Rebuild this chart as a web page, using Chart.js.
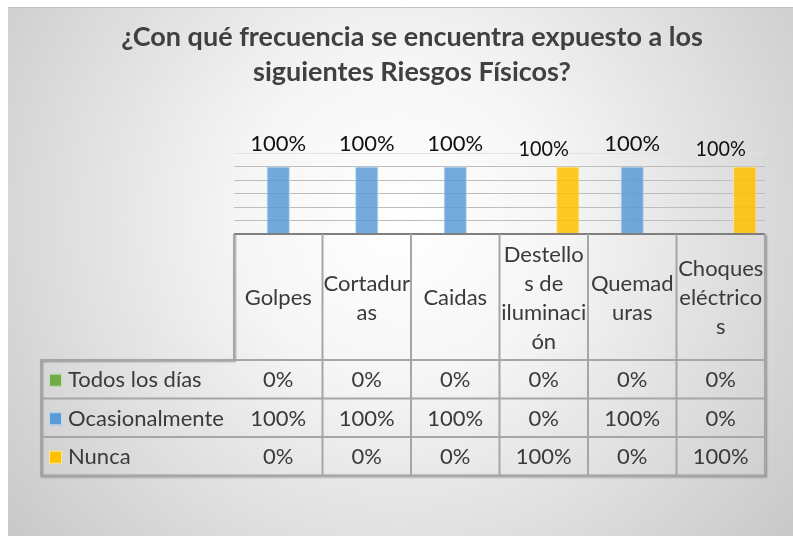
<!DOCTYPE html>
<html>
<head>
<meta charset="utf-8">
<script src="https://cdn.jsdelivr.net/npm/chart.js@4/dist/chart.umd.min.js"></script>
<style>
  html, body { margin: 0; padding: 0; background: #fff; }
  canvas { display: block; }
</style>
</head>
<body>
<canvas id="chart" width="793" height="536"></canvas>
<script>
// ========== DATA ==========
const titleLines = ["¿Con qué frecuencia se encuentra expuesto a los", "siguientes Riesgos Físicos?"];
const categories = [
  ["Golpes"],
  ["Cortadur", "as"],
  ["Caidas"],
  ["Destello", "s de", "iluminaci", "ón"],
  ["Quemad", "uras"],
  ["Choques", "eléctrico", "s"]
];
const seriesNames = ["Todos los días", "Ocasionalmente", "Nunca"];
const todosLosDias = [0, 0, 0, 0, 0, 0];
const ocasionalmente = [100, 100, 100, 0, 100, 0];
const nunca = [0, 0, 0, 100, 0, 100];
const yMax = 120;
const yStep = 20;

const seriesColors = ["rgba(112,173,71,0.9)", "rgba(91,155,213,0.85)", "rgba(255,192,0,0.85)"];
const keyColors = ["#70AD47", "#5B9BD5", "#FFC000"];
const FONT = "Lato, 'Open Sans', sans-serif";

// ========== PLUGINS ==========
// gray panel with radial gradient behind everything
const panelPlugin = {
  id: "panel",
  beforeDraw(chart) {
    const { ctx, width, height } = chart;
    ctx.save();
    ctx.fillStyle = "#fff";
    ctx.fillRect(0, 0, width, height);
    const g = ctx.createRadialGradient(400, 220, 0, 400, 220, 520);
    g.addColorStop(0, "#ffffff");
    g.addColorStop(0.3, "#f6f6f6");
    g.addColorStop(1, "#c6c6c6");
    ctx.fillStyle = g;
    ctx.fillRect(8, 7, width - 8, height - 7);
    ctx.strokeStyle = "#c2c2c2";
    ctx.lineWidth = 1;
    ctx.beginPath();
    ctx.moveTo(8, 7.5);
    ctx.lineTo(width, 7.5);
    ctx.stroke();
    ctx.restore();
  }
};

// title drawn by hand so it centres on the whole panel
const titlePlugin = {
  id: "bigTitle",
  afterDraw(chart) {
    const ctx = chart.ctx;
    ctx.save();
    ctx.font = "bold 27px " + FONT;
    ctx.fillStyle = "#404040";
    ctx.textAlign = "center";
    ctx.textBaseline = "alphabetic";
    titleLines.forEach((t, i) => ctx.fillText(t, 412, 46 + i * 35));
    ctx.restore();
  }
};

// "100%" labels over the non-zero bars
const labelPlugin = {
  id: "barLabels",
  afterDatasetsDraw(chart) {
    const ctx = chart.ctx;
    const xs = chart.scales.x, ys = chart.scales.y;
    ctx.save();
    ctx.font = "22px " + FONT;
    ctx.fillStyle = "#111";
    ctx.textAlign = "center";
    ctx.textBaseline = "alphabetic";
    chart.data.datasets.forEach((ds) => {
      ds.data.forEach((v, i) => {
        if (!v) return;
        ctx.save();
        ctx.translate(xs.getPixelForValue(i), ys.getPixelForValue(v) - ds.labelGap);
        ctx.scale(ds.labelScaleX, 1);
        ctx.fillText(v + "%", 0, 0);
        ctx.restore();
      });
    });
    ctx.restore();
  }
};

// Excel style data table under the plot
const tablePlugin = {
  id: "dataTable",
  afterDraw(chart) {
    const ctx = chart.ctx;
    const area = chart.chartArea;
    const xs = chart.scales.x;
    const n = categories.length;
    const catW = (area.right - area.left) / n;
    const tableLeft = 41;
    const headTop = area.bottom;
    const headBottom = 360;
    const rowH = 38.5;
    const bottom = headBottom + rowH * seriesNames.length;

    ctx.save();
    // outer outline with a soft shadow
    ctx.strokeStyle = "#a6a6a6";
    ctx.lineWidth = 2;
    ctx.shadowColor = "rgba(0,0,0,0.35)";
    ctx.shadowOffsetX = 1;
    ctx.shadowOffsetY = 1;
    ctx.shadowBlur = 2;
    ctx.beginPath();
    ctx.moveTo(area.right, headTop);
    ctx.lineTo(area.right, bottom);
    ctx.lineTo(tableLeft, bottom);
    ctx.lineTo(tableLeft, headBottom);
    ctx.lineTo(area.left, headBottom);
    ctx.lineTo(area.left, headTop);
    ctx.stroke();
    ctx.shadowColor = "transparent";

    // inner lines
    ctx.beginPath();
    for (let k = 0; k < seriesNames.length; k++) {
      const y = headBottom + rowH * k;
      ctx.moveTo(k === 0 ? area.left : tableLeft, y);
      ctx.lineTo(area.right, y);
    }
    for (let i = 1; i < n; i++) {
      const x = area.left + i * catW;
      ctx.moveTo(x, headTop);
      ctx.lineTo(x, bottom);
    }
    ctx.stroke();

    ctx.font = "22px " + FONT;
    ctx.fillStyle = "#3a3a3a";
    ctx.textBaseline = "middle";
    ctx.textAlign = "center";

    // category headers
    const headMid = (headTop + headBottom) / 2 + 1;
    const lh = 29;
    categories.forEach((lines, i) => {
      const cx = xs.getPixelForValue(i);
      const y0 = headMid - (lines.length - 1) * lh / 2;
      lines.forEach((t, j) => ctx.fillText(t, cx, y0 + j * lh));
    });

    // data rows
    chart.data.datasets.forEach((ds, k) => {
      const cy = headBottom + rowH * k + rowH / 2 + 1;
      ctx.fillStyle = keyColors[k];
      ctx.fillRect(tableLeft + 8, cy - 6.5, 13, 13);
      ctx.strokeStyle = "rgba(255,255,255,0.6)";
      ctx.lineWidth = 1;
      ctx.strokeRect(tableLeft + 8.5, cy - 6, 12, 12);
      ctx.fillStyle = "#3a3a3a";
      ctx.textAlign = "left";
      ctx.fillText(ds.label, tableLeft + 27, cy);
      ctx.textAlign = "center";
      ds.data.forEach((v, i) => ctx.fillText(v + "%", xs.getPixelForValue(i), cy));
    });
    ctx.restore();
  }
};

// ========== CHART ==========
const barBorders = ["#a9d08e", "#bdd7ee", "#ffe699"];
const allSeries = [todosLosDias, ocasionalmente, nunca];

new Chart(document.getElementById("chart"), {
  type: "bar",
  data: {
    labels: categories,
    datasets: allSeries.map((vals, k) => ({
      label: seriesNames[k],
      data: vals,
      backgroundColor: seriesColors[k],
      borderColor: barBorders[k],
      borderWidth: 1,
      labelGap: k === 2 ? 11 : 16,
      labelScaleX: k === 2 ? 0.9 : 1
    }))
  },
  options: {
    responsive: false,
    animation: false,
    categoryPercentage: 0.814,
    barPercentage: 0.97,
    layout: { padding: { left: 234, right: 28, top: 153, bottom: 302 } },
    plugins: { legend: { display: false }, tooltip: { enabled: false } },
    scales: {
      x: { display: false },
      y: {
        min: 0,
        max: yMax,
        ticks: { display: false, stepSize: yStep },
        border: { display: false },
        grid: {
          drawTicks: false,
          color: (c) => c.tick.value === 0 ? "#7f7f7f" : c.tick.value === yMax ? "#e2e2e2" : "#bdbdbd",
          lineWidth: (c) => c.tick.value === 0 ? 2 : 1
        },
        afterFit: (s) => { s.width = 0; }
      }
    }
  },
  plugins: [panelPlugin, labelPlugin, tablePlugin, titlePlugin]
});
</script>
</body>
</html>
